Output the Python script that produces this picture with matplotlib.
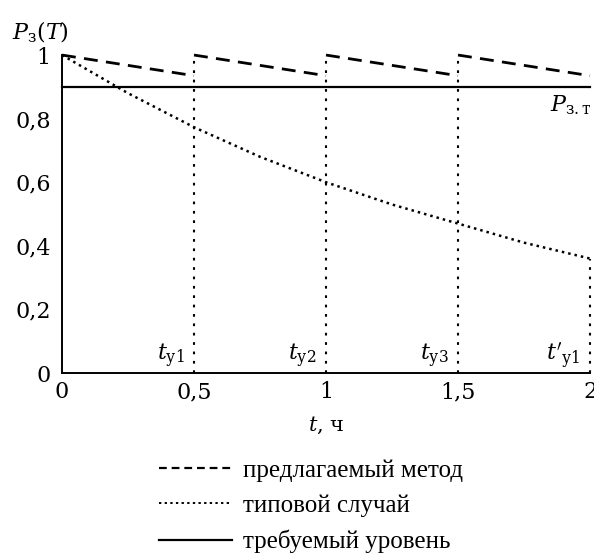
import matplotlib
matplotlib.use("Agg")
import matplotlib.pyplot as plt
from matplotlib.lines import Line2D

plt.rcParams["font.family"] = ["DejaVu Serif"]
plt.rcParams["mathtext.fontset"] = "dejavuserif"

# typical case
T_TYP = [0.0, 0.25, 0.5, 0.75, 1.0, 1.25, 1.5, 1.75, 2.0]
P_TYP = [1.0, 0.88, 0.773, 0.68, 0.60, 0.53, 0.47, 0.41, 0.36]

# proposed method: restored at each check point
T_START = [0.0, 0.5, 1.0, 1.5]
T_END = [0.5, 1.0, 1.5, 2.0]
P_HIGH = [1.0, 1.0, 1.0, 1.0]
P_LOW = [0.935, 0.935, 0.935, 0.935]

P_REQ = 0.9

# check points and their labels
T_CHECK = [0.5, 1.0, 1.5, 2.0]
P_CHECK_TOP = [1.0, 1.0, 1.0, 0.36]
CHECK_LABELS = [r"$t_{\mathrm{у1}}$", r"$t_{\mathrm{у2}}$",
                r"$t_{\mathrm{у3}}$", r"$t'_{\mathrm{у1}}$"]

XTICKS = [0, 0.5, 1, 1.5, 2]
XTICK_LABELS = ["0", "0,5", "1", "1,5", "2"]
YTICKS = [0, 0.2, 0.4, 0.6, 0.8, 1]
YTICK_LABELS = ["0", "0,2", "0,4", "0,6", "0,8", "1"]

fig = plt.figure(figsize=(5.94, 5.56), dpi=100)
ax = fig.add_axes([0.1044, 0.3291, 0.8889, 0.5719])

DASH = (5, 3)
DOT = (1, 1.6)
VDOT = (1.3, 3.2)

for t0, t1, ph, pl in zip(T_START, T_END, P_HIGH, P_LOW):
    ax.plot([t0, t1], [ph, pl], color="black", lw=2.0, dashes=DASH,
            clip_on=False, solid_capstyle="butt")

ax.plot(T_TYP, P_TYP, color="black", lw=1.8, dashes=DOT, clip_on=False)
ax.plot([0, 2], [P_REQ, P_REQ], color="black", lw=1.6, clip_on=False)

for tc, top in zip(T_CHECK, P_CHECK_TOP):
    ax.plot([tc, tc], [0, top], color="black", lw=1.5, dashes=VDOT,
            clip_on=False)

for tc, lab in zip(T_CHECK, CHECK_LABELS):
    ax.annotate(lab, (tc, 0), xytext=(-7, 2), textcoords="offset points",
                ha="right", va="bottom", fontsize=16)

ax.annotate(r"$P_{\mathrm{з.т}}$", (2, P_REQ), xytext=(1, -5),
            textcoords="offset points", ha="right", va="top", fontsize=16)

ax.set_xlim(0, 2)
ax.set_ylim(0, 1)
ax.set_xticks(XTICKS)
ax.set_xticklabels(XTICK_LABELS)
ax.set_yticks(YTICKS)
ax.set_yticklabels(YTICK_LABELS)
ax.tick_params(axis="both", length=0, labelsize=16)
ax.tick_params(axis="x", pad=6)
ax.tick_params(axis="y", pad=8)
for side in ("top", "right"):
    ax.spines[side].set_visible(False)
for side in ("left", "bottom"):
    ax.spines[side].set_linewidth(1.4)

ax.set_xlabel(r"$t$, ч", fontsize=15, labelpad=8)
fig.text(0.02, 0.965, r"$P_{\mathrm{з}}(T)$", fontsize=16, ha="left", va="top")

handles = [
    Line2D([], [], color="black", lw=1.6, dashes=(3.5, 2.2)),
    Line2D([], [], color="black", lw=1.4, dashes=(1.2, 1.7)),
    Line2D([], [], color="black", lw=1.6),
]
labels = ["предлагаемый метод", "типовой случай", "требуемый уровень"]
fig.legend(handles, labels, loc="upper left", bbox_to_anchor=(0.268, 0.174),
           frameon=False, handlelength=2.9, handletextpad=0.44,
           labelspacing=0.51, borderpad=0, borderaxespad=0,
           prop={"family": "Liberation Serif", "size": 18})

fig.savefig("out.png", dpi=100)
